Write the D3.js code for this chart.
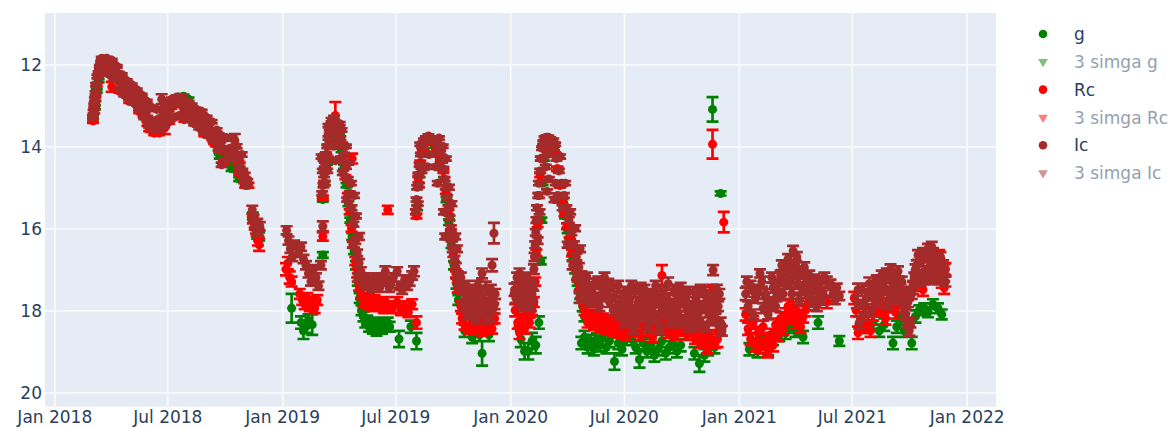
<!doctype html>
<html lang="en">
<head>
<meta charset="utf-8">
<title>light curve g / Rc / Ic</title>
<script src="https://cdn.jsdelivr.net/npm/d3@7"></script>
<style>
  body { margin: 0; background: #fff; }
  svg text { font-family: "DejaVu Sans", Verdana, sans-serif; }
</style>
</head>
<body>
<svg id="chart" width="1175" height="428"></svg>
<script>
// observations: [MJD - 58000, magnitude, error]
const gObs = [
  [181,13.35,.05],[184,13.05,.05],[187,12.65,.04],[190,12.4,.04],[194,12.1,.04],[198,11.98,.03],[204,12.0,.03],[210,12.1,.03],[216,12.2,.03],[222,12.35,.03],[230,12.5,.03],[238,12.6,.03],[246,12.8,.04],[254,13.0,.04],[262,13.2,.04],[270,13.4,.04],[278,13.5,.04],[286,13.45,.04],[294,13.3,.04],[302,13.1,.04],[310,12.95,.04],[318,12.85,.04],[326,12.85,.04],[334,13.0,.04],[342,13.15,.04],[350,13.3,.04],[358,13.45,.04],[366,13.65,.04],[374,13.85,.05],[382,14.05,.05],[390,14.25,.05],[398,14.35,.05],[406,14.45,.05],[414,14.55,.05],[420,14.7,.05],[426,14.9,.05],
  [318,12.8,.04],[326,12.78,.04],[334,12.85,.04],[384,14.25,.05],[394,14.35,.05],[403,14.55,.05],[410,14.5,.05],[415,14.8,.05],[418,14.75,.05],[425,14.95,.05],
  [437,15.7,.08],[441,15.9,.08],[444,16.15,.1],[447,16.2,.1],
  [499,17.95,.35],[514,18.3,.15],[518,18.5,.2],[522,18.4,.15],[526,18.25,.15],[532,18.35,.25],[549,16.65,.07],
  [549,15.3,.05],[552,14.9,.05],[556,14.4,.05],[561,13.9,.04],[566,13.6,.04],[571,13.55,.04],[575,13.75,.04],[579,14.1,.04],[583,14.5,.05],[587,14.95,.05],[590,15.4,.06],[593,15.8,.06],[596,16.2,.08],[599,16.55,.08],[602,16.9,.1],[605,17.3,.1],[608,17.7,.12],[611,18.0,.12],
  [614,18.15,.12],[617,18.3,.12],[620,18.25,.12],[623,18.4,.12],[626,18.3,.12],[629,18.45,.12],[632,18.35,.12],[635,18.5,.12],[638,18.4,.12],[641,18.3,.12],[644,18.45,.12],[647,18.35,.12],[650,18.4,.12],[653,18.3,.12],[656,18.4,.12],
  [671,18.7,.2],[690,18.4,.15],[699,18.75,.2],
  [700,15.5,.06],[704,14.7,.05],[710,14.1,.04],[716,13.85,.04],[722,13.85,.04],[728,14.0,.04],[733,14.15,.04],[738,14.35,.05],[743,14.8,.05],[747,15.3,.06],[751,15.85,.07],[755,16.4,.08],[759,16.9,.1],[763,17.35,.12],[766,17.75,.12],
  [776,18.5,.15],[788,18.65,.15],[800,18.6,.15],[804,19.05,.3],[815,18.6,.15],
  [866,18.7,.2],[872,19.0,.2],[878,19.0,.2],[884,18.75,.2],[890,18.85,.2],[895,18.3,.15],[898,16.8,.08],
  [899,15.8,.06],[901,14.9,.05],[903,14.3,.05],[906,14.0,.04],[910,13.9,.04],[914,13.95,.04],[918,14.05,.04],[921,14.2,.05],[925,14.55,.05],[929,14.95,.05],[933,15.35,.06],[937,15.7,.06],[941,16.05,.07],[945,16.35,.08],[949,16.7,.08],[953,17.0,.1],[957,17.3,.1],[961,17.6,.12],[965,17.9,.12],[968,18.15,.12],
  [963,18.8,.15],[968,18.65,.15],[973,18.9,.15],[978,18.75,.15],[983,18.95,.15],[988,18.7,.15],[993,18.85,.15],[998,18.6,.15],[1003,18.9,.15],[1008,18.75,.15],[1016,19.25,.2],[1022,18.8,.15],[1028,18.95,.15],[1034,18.7,.15],
  [1044,18.7,.15],[1050,18.9,.15],[1056,19.2,.2],[1062,18.8,.15],[1068,19.0,.15],[1074,18.85,.15],[1080,19.1,.15],[1086,18.95,.15],[1092,18.75,.15],[1098,19.05,.15],[1104,18.9,.15],[1110,18.8,.15],[1116,19.0,.15],[1122,18.85,.15],[1144,19.05,.15],[1152,19.3,.2],[1160,19.1,.15],[1166,18.95,.15],[1176,18.9,.15],
  [1173,13.1,.3],[1186,15.15,.05],
  [1232,18.95,.15],[1245,19.0,.15],[1250,18.8,.15],[1262,18.95,.15],[1270,18.7,.15],[1280,18.6,.15],[1290,18.55,.15],[1298,18.4,.15],[1306,18.5,.15],[1312,18.45,.15],[1318,18.65,.15],[1342,18.3,.15],[1376,18.75,.12],
  [1418,18.4,.15],[1430,18.3,.15],[1440,18.5,.15],[1448,18.35,.15],[1462,18.8,.15],[1468,18.4,.15],[1474,18.2,.15],[1480,18.5,.15],[1492,18.8,.15],[1498,18.15,.15],[1504,18.0,.12],[1512,17.95,.12],[1518,18.05,.12],[1526,17.85,.12],[1534,17.95,.12],[1540,18.1,.12]
];

const rcObs = [
  [181,13.38,.05],[183,13.15,.05],[185,12.85,.05],[187,12.5,.04],[189,12.3,.04],[192,12.1,.04],[196,12.0,.03],[200,11.95,.03],[205,12.0,.03],[210,12.05,.03],[211,12.55,.12],[215,12.15,.03],[220,12.3,.03],[226,12.45,.03],[232,12.55,.03],[238,12.65,.03],[244,12.75,.04],[250,12.9,.04],[256,13.05,.04],[262,13.25,.04],[268,13.45,.05],[274,13.6,.05],[280,13.65,.05],[286,13.5,.05],[292,13.4,.05],[296,13.55,.15],[300,13.2,.04],[306,13.05,.04],[312,12.95,.04],[318,12.9,.04],[324,13.0,.04],[330,13.1,.04],[336,13.2,.04],[342,13.3,.04],[348,13.4,.04],[354,13.5,.04],[360,13.6,.04],[366,13.7,.05],[372,13.8,.05],[378,13.95,.05],[384,14.05,.05],[390,14.1,.05],[396,14.15,.05],[402,14.2,.05],[408,14.25,.05],[414,14.4,.05],[420,14.65,.05],[426,14.85,.06],[430,14.95,.06],
  [223,12.65,.04],[239,12.9,.04],[255,13.15,.04],[271,13.58,.05],[279,13.68,.05],[287,13.68,.05],[303,13.4,.05],[327,13.35,.05],[359,13.7,.05],[375,13.9,.05],[391,14.4,.05],[415,14.65,.05],[425,14.95,.06],
  [437,15.8,.08],[440,15.95,.08],[443,16.1,.1],[445,16.3,.12],[447,16.4,.15],
  [490,17.0,.15],[493,16.85,.15],[496,17.2,.15],[499,17.3,.12],[512,17.6,.12],[516,17.75,.12],[520,17.85,.12],[524,17.7,.12],[528,17.9,.12],[532,17.8,.12],[536,17.95,.12],[540,17.75,.12],[549,16.2,.1],
  [549,15.25,.05],[551,14.9,.05],[553,14.55,.05],[555,14.25,.05],[558,14.0,.04],[562,13.7,.04],[566,13.55,.04],[569,13.25,.33],[573,13.6,.04],[577,13.9,.04],[581,14.3,.05],[585,14.75,.05],[589,15.2,.06],[592,15.6,.06],[595,16.0,.08],[596,14.3,.12],[598,16.4,.08],[601,16.8,.1],[604,17.1,.1],[607,17.4,.12],[610,17.6,.12],
  [614,17.8,.12],[617,17.75,.12],[620,17.85,.12],[623,17.7,.12],[626,17.8,.12],[629,17.9,.12],[632,17.75,.12],[635,17.85,.12],[638,17.8,.12],[641,17.9,.12],[644,17.85,.12],[647,17.95,.12],[650,17.8,.12],[653,15.55,.1],[656,17.9,.12],[660,17.95,.12],
  [668,17.8,.12],[674,18.0,.12],[680,17.9,.12],[686,18.05,.12],[692,17.85,.12],[699,18.3,.15],
  [699,15.7,.06],[702,14.8,.08],[705,14.4,.05],[709,14.05,.04],[714,13.85,.04],[720,13.8,.04],[726,13.9,.04],[732,14.05,.04],[738,14.3,.05],[742,14.6,.05],[746,15.1,.06],[750,15.6,.06],[754,16.1,.08],[758,16.6,.1],[762,17.1,.1],[765,17.45,.12],
  [770,17.9,.12],[772,18.2,.12],[776,18.35,.12],[780,18.1,.12],[784,18.45,.12],[788,18.25,.12],[792,18.4,.12],[796,18.15,.12],[800,18.3,.12],[804,18.5,.12],[808,18.2,.12],[812,18.4,.12],[816,18.3,.12],[820,18.45,.12],[824,18.2,.12],
  [857,18.0,.15],[861,18.3,.15],[864,18.55,.15],[868,18.2,.12],[872,18.45,.12],[876,18.1,.12],[880,18.3,.12],[884,18.0,.12],[887,17.8,.12],
  [889,17.3,.1],[891,16.6,.08],[893,15.9,.07],[895,15.2,.06],[897,14.7,.05],[899,14.3,.05],[902,14.0,.04],[906,13.85,.04],[910,13.82,.04],[914,13.9,.04],[917,14.0,.04],[920,14.2,.05],[924,14.55,.05],[928,14.95,.05],[932,15.3,.06],[936,15.65,.06],[940,15.95,.07],[944,16.3,.08],[948,16.6,.08],[952,16.9,.1],[956,17.15,.1],[960,17.4,.12],[964,17.6,.12],
  [968,18.0,.12],[973,18.3,.12],[978,18.1,.12],[983,18.35,.12],[988,18.15,.12],[993,18.4,.12],[998,18.2,.12],[1003,18.45,.12],[1008,18.25,.12],[1013,18.5,.12],[1018,18.3,.12],[1023,18.55,.12],[1028,18.35,.12],[1033,18.6,.12],[1038,18.4,.12],
  [1041,18.3,.12],[1045,18.1,.2],[1049,18.5,.12],[1053,18.25,.12],[1057,18.6,.12],[1061,18.35,.12],[1065,18.15,.12],[1069,18.5,.12],[1073,18.3,.12],[1077,18.65,.12],[1081,18.4,.12],[1085,18.2,.12],[1092,17.15,.25],[1093,18.45,.12],[1097,18.3,.12],[1101,18.55,.12],[1105,18.2,.12],[1109,18.4,.12],[1113,18.6,.12],[1117,18.3,.12],[1121,18.5,.12],[1125,18.25,.12],[1129,18.45,.12],[1133,18.6,.12],[1137,18.35,.12],[1141,18.5,.12],[1145,18.7,.12],[1149,18.4,.12],[1153,18.8,.12],[1157,18.55,.12],[1161,18.75,.12],[1165,18.9,.15],[1169,18.6,.12],[1173,17.5,.12],[1177,18.8,.12],[1181,18.7,.2],[1185,18.45,.12],
  [1173,13.95,.35],[1191,15.85,.25],
  [1226,18.1,.15],[1230,18.45,.15],[1234,18.7,.15],[1238,18.3,.15],[1242,18.85,.15],[1246,18.55,.15],[1250,18.9,.15],[1254,18.4,.15],[1258,18.75,.15],[1262,19.0,.15],[1266,18.6,.15],[1270,18.85,.15],[1274,18.35,.15],[1278,18.6,.15],[1282,18.2,.15],[1286,18.45,.15],[1290,18.1,.15],[1294,17.9,.15],[1298,18.2,.15],[1302,17.95,.15],[1306,18.3,.15],[1310,18.05,.15],[1314,18.4,.15],[1318,18.15,.15],[1322,18.0,.15],[1326,17.85,.15],[1356,17.8,.15],
  [1400,17.7,.15],[1403,18.0,.15],[1406,18.55,.15],[1410,18.2,.15],[1414,18.4,.15],[1418,17.9,.15],[1422,18.3,.15],[1426,18.5,.15],[1430,18.1,.15],[1434,17.8,.15],[1438,18.0,.15],[1442,17.7,.15],[1446,17.95,.15],[1450,18.2,.15],[1454,17.85,.15],[1458,17.6,.15],[1462,17.9,.15],[1466,18.05,.15],[1470,17.75,.15],[1474,17.5,.15],[1478,17.8,.15],[1486,17.6,.15],[1494,17.45,.15],[1502,17.3,.15],[1510,17.5,.15],[1518,17.2,.15],[1524,16.9,.15],[1528,16.75,.12],[1532,17.1,.15],[1536,16.65,.12],[1540,17.3,.15],[1544,17.45,.15],[1546,17.0,.15]
];

const icObs = [
  // 2018 season
  [181,13.28,.04],[182,13.15,.04],[183,13.0,.04],[184,12.85,.04],[185,12.7,.04],[186,12.5,.04],[188,12.3,.04],[190,12.2,.03],[192,12.05,.03],[194,11.95,.03],[197,11.9,.03],[200,11.88,.03],[203,11.9,.03],[206,11.92,.03],[209,11.95,.03],[212,12.0,.03],[215,12.1,.03],[218,12.2,.03],[221,12.3,.03],[224,12.35,.03],[228,12.45,.03],[232,12.5,.03],[236,12.55,.03],[240,12.6,.03],[244,12.7,.03],[248,12.8,.03],[252,12.9,.04],[256,13.0,.04],[260,13.1,.04],[264,13.2,.04],[268,13.3,.04],[272,13.35,.04],[276,13.45,.04],[280,13.4,.04],[284,13.35,.04],[288,13.4,.04],[291,12.85,.12],[292,13.3,.04],[296,13.25,.04],[300,13.1,.04],[304,13.0,.04],[308,12.95,.04],[312,12.9,.04],[316,12.92,.04],[320,12.95,.04],[324,13.0,.04],[328,13.05,.04],[332,13.1,.04],[336,13.15,.04],[340,13.2,.04],[344,13.25,.04],[348,13.3,.04],[352,13.3,.04],[356,13.4,.04],[360,13.5,.04],[364,13.55,.04],[368,13.65,.04],[372,13.75,.04],[376,13.8,.04],[380,13.9,.04],[384,13.95,.04],[387,14.45,.05],[388,14.05,.04],[392,14.1,.04],[396,14.1,.04],[400,14.05,.05],[404,14.15,.05],[408,13.85,.15],[410,14.2,.05],[412,14.35,.05],[416,14.45,.05],[420,14.6,.05],[424,14.7,.05],[428,14.85,.05],
  [195,11.85,.03],[203,11.85,.03],[211,11.9,.03],[219,12.05,.03],[227,12.25,.03],[235,12.4,.03],[243,12.5,.03],[251,12.62,.03],[259,12.75,.03],[267,12.9,.03],[275,13.05,.04],[283,13.1,.04],[291,13.1,.04],[299,12.95,.04],[307,12.85,.04],[315,12.8,.04],[323,12.8,.04],[331,12.9,.04],[339,13.0,.04],[347,13.1,.04],[355,13.15,.04],[363,13.3,.04],[371,13.4,.04],[379,13.6,.04],[387,13.75,.04],[395,13.8,.05],[403,13.8,.05],[411,14.0,.05],[419,14.2,.05],
  [199,12.2,.03],[207,12.25,.03],[215,12.35,.03],[223,12.6,.03],[231,12.75,.03],[239,12.85,.03],[247,12.95,.03],[255,13.1,.04],[263,13.3,.04],[271,13.5,.04],[279,13.6,.04],[287,13.6,.04],[295,13.5,.04],[303,13.35,.04],[311,13.3,.04],[319,13.25,.04],[327,13.3,.04],[335,13.35,.04],[343,13.45,.04],[351,13.55,.04],[359,13.65,.04],[367,13.75,.04],[375,13.85,.04],[383,14.1,.05],[391,14.35,.05],[399,14.25,.05],[407,14.3,.05],[415,14.6,.05],[423,14.85,.05],[427,14.95,.05],
  [436,15.55,.1],[438,15.75,.08],[440,15.9,.08],[442,16.05,.08],[444,15.85,.08],[446,16.1,.1],[448,15.95,.1],
  // 2019 season
  [491,16.05,.1],[494,16.3,.1],[497,16.5,.1],[500,16.7,.1],[503,16.4,.1],[510,16.6,.1],[514,16.45,.1],[518,16.75,.1],[522,16.9,.1],[526,17.1,.1],[530,17.3,.1],[534,17.0,.1],[538,17.2,.1],[542,17.4,.1],[546,16.9,.1],[549,15.95,.12],
  [548,15.15,.05],[549,14.6,.05],[550,14.95,.05],[550,14.3,.05],[551,14.7,.05],[552,14.45,.05],[552,14.9,.05],[554,14.2,.05],[556,14.0,.04],[558,13.8,.04],[560,13.65,.04],[562,13.55,.04],[565,13.5,.04],[568,13.45,.04],[571,13.5,.04],[574,13.6,.04],[577,13.8,.04],[580,13.95,.04],[583,14.2,.04],[586,14.5,.05],[589,14.8,.05],[592,15.15,.05],[595,15.5,.06],[598,15.9,.06],[601,16.3,.08],[604,16.6,.08],[607,16.85,.1],[610,17.05,.1],
  [547,14.25,.05],[556,14.6,.05],[557,14.3,.05],[558,13.5,.04],[563,13.35,.04],[566,14.0,.04],[567,13.3,.04],[569,14.35,.05],[576,13.45,.04],[578,14.3,.05],[579,13.6,.04],[581,14.65,.05],[586,14.0,.04],[588,15.3,.05],[590,14.4,.05],[594,14.9,.05],[597,16.4,.07],[599,15.2,.06],[602,15.7,.06],[605,17.2,.1],[607,16.2,.08],
  [613,17.25,.1],[616,17.35,.1],[619,17.2,.1],[622,17.4,.1],[625,17.3,.1],[628,17.45,.1],[631,17.2,.1],[634,17.35,.1],[637,17.25,.1],[640,17.45,.1],[643,17.3,.1],[646,17.2,.1],[649,17.05,.12],[652,17.3,.1],[655,17.45,.1],[658,17.35,.1],[662,17.2,.1],
  [668,17.05,.1],[672,17.4,.1],[676,17.5,.1],[680,17.25,.1],[684,17.4,.1],[688,17.3,.1],[692,17.15,.1],[695,17.05,.12],
  [698,15.6,.06],[699,15.3,.05],[700,15.0,.05],[701,15.4,.05],[702,14.7,.05],[703,14.95,.05],[704,14.45,.05],[706,14.2,.04],[708,14.0,.04],[711,13.85,.04],[714,13.8,.04],[718,13.75,.04],[722,13.8,.04],[726,13.85,.04],[730,13.9,.04],[734,14.0,.04],[737,14.15,.04],[740,14.35,.05],[742,14.55,.05],[744,14.8,.05],[746,15.0,.05],[748,15.25,.06],[750,15.5,.06],[752,15.75,.06],[754,16.0,.07],[756,16.25,.07],[758,16.5,.08],[760,16.75,.08],[762,16.95,.1],[765,17.15,.1],
  [705,13.95,.04],[707,14.6,.05],[716,14.5,.05],[719,14.2,.05],[730,14.5,.05],[733,14.9,.05],[735,13.8,.04],[741,14.0,.04],[743,15.6,.06],[745,16.2,.07],[746,14.3,.05],[751,15.0,.06],[755,15.4,.06],[757,16.5,.08],[761,16.2,.07],[764,16.5,.08],[767,17.3,.1],
  [768,17.4,.12],[771,17.5,.12],[774,17.9,.12],[777,17.6,.12],[780,18.1,.12],[783,17.8,.12],[786,17.5,.12],[789,18.0,.12],[792,17.7,.12],[795,18.2,.12],[798,17.9,.12],[801,17.6,.12],[804,17.1,.12],[805,18.05,.12],[807,17.75,.12],[810,17.45,.15],[813,17.9,.12],[816,18.15,.12],[819,17.7,.12],[820,16.9,.15],[822,17.95,.12],[823,16.12,.25],[825,17.6,.12],
  [770,17.2,.12],[779,17.4,.12],[788,17.65,.12],[797,17.4,.12],[812,18.2,.12],[818,17.5,.12],[824,17.85,.12],
  // 2020 season
  [856,17.5,.15],[860,17.2,.12],[863,17.8,.12],[866,17.4,.12],[869,17.9,.12],[872,17.3,.12],[875,17.6,.12],[878,17.85,.12],[881,17.35,.12],[884,17.6,.12],[887,17.0,.12],
  [858,17.7,.12],[864,17.1,.12],[870,17.6,.12],[876,17.2,.12],[882,17.9,.12],[886,17.4,.12],
  [888,16.7,.1],[889,16.4,.08],[890,16.1,.08],[891,15.8,.07],[892,15.5,.06],[893,16.3,.08],[894,15.2,.06],[895,14.9,.05],[896,15.6,.06],[897,14.6,.05],[898,14.3,.05],[900,14.05,.04],[902,13.9,.04],[904,13.8,.04],[907,13.78,.04],[910,13.78,.04],[913,13.82,.04],[915,13.9,.04],
  [919,14.05,.04],[923,14.3,.05],[927,14.6,.05],[931,14.9,.05],[935,15.2,.06],[939,15.5,.06],[943,15.8,.07],[947,16.1,.07],[951,16.4,.08],[955,16.7,.08],[959,16.95,.1],[963,17.15,.1],
  [906,14.5,.05],[908,15.1,.05],[909,14.2,.04],[911,14.8,.05],[918,13.85,.04],[920,15.3,.06],[921,13.95,.04],[922,14.9,.05],[925,15.2,.05],[929,14.25,.05],[933,15.5,.06],[937,14.9,.05],[941,16.4,.07],[945,15.6,.06],[949,16.9,.1],[953,16.0,.07],[957,17.2,.1],[961,16.5,.08],
  [960,17.7,.12],[964,17.4,.12],[968,17.6,.12],[972,17.2,.12],[976,17.8,.12],[980,17.5,.12],[984,17.35,.12],[988,17.7,.12],[992,17.9,.12],[996,17.45,.12],[1000,17.2,.12],[1004,17.6,.12],[1008,17.8,.12],[1012,17.4,.12],[1016,17.65,.12],[1020,17.9,.12],[1024,18.1,.12],[1028,17.7,.12],[1032,18.3,.12],[1036,17.55,.12],
  [966,17.3,.12],[974,17.55,.12],[982,17.8,.12],[990,17.3,.12],[998,17.6,.12],[1006,17.35,.12],[1014,18.0,.12],[1022,17.4,.12],[1030,17.9,.12],[1034,18.2,.12],[1038,17.6,.12],
  [1040,17.8,.12],[1044,18.1,.12],[1046,18.0,.12],[1049,17.55,.15],[1050,18.3,.12],[1052,18.15,.12],[1054,17.8,.12],[1058,17.45,.12],[1060,17.6,.12],[1062,18.1,.12],[1066,17.7,.12],[1068,17.9,.12],[1070,18.4,.12],[1074,17.6,.12],[1076,18.2,.12],[1078,17.9,.12],[1082,17.4,.12],[1084,17.65,.12],[1086,18.2,.12],[1090,17.75,.12],[1092,17.95,.12],[1094,17.5,.12],[1098,18.0,.12],[1100,17.7,.12],[1102,17.35,.15],[1106,17.85,.12],[1108,18.1,.12],[1110,18.3,.12],[1114,17.6,.12],[1116,17.9,.12],[1118,18.05,.12],[1122,17.45,.12],[1124,17.7,.12],[1126,17.8,.12],[1130,18.25,.12],[1132,18.0,.12],[1134,17.55,.12],[1138,17.9,.12],[1140,18.2,.12],[1142,18.35,.12],[1146,17.7,.12],[1148,17.8,.12],[1150,18.1,.12],[1154,17.5,.12],[1156,17.9,.12],[1158,17.95,.12],[1162,18.4,.12],[1164,17.7,.12],[1166,17.65,.12],[1170,18.25,.12],[1172,18.0,.12],[1174,17.02,.12],[1176,17.75,.12],[1178,18.2,.12],[1180,17.5,.12],[1182,17.9,.12],[1186,18.3,.12],
  [1043,17.4,.12],[1047,18.45,.12],[1056,18.0,.12],[1064,17.5,.12],[1072,18.05,.12],[1080,17.8,.12],[1088,18.45,.12],[1096,17.75,.12],[1104,18.3,.12],[1112,17.5,.12],[1120,18.3,.12],[1128,17.6,.12],[1136,18.4,.12],[1144,17.55,.12],[1152,18.3,.12],[1160,17.55,.12],[1168,18.05,.12],[1184,17.6,.12],[1188,18.5,.12],
  // 2021 season
  [1226,17.6,.15],[1230,17.9,.12],[1234,17.4,.12],[1238,18.1,.12],[1242,17.7,.12],[1246,17.5,.12],[1249,17.1,.1],[1254,17.95,.12],[1258,17.6,.12],[1262,18.1,.12],[1266,17.8,.12],[1270,17.45,.12],[1274,17.9,.12],[1278,17.35,.12],[1282,17.15,.12],[1286,17.6,.12],[1290,17.0,.12],[1294,16.75,.12],[1298,17.3,.12],[1302,16.55,.12],[1306,16.9,.12],[1310,17.35,.12],[1314,17.1,.12],[1318,17.5,.12],[1322,17.2,.12],[1326,17.65,.12],[1330,17.35,.12],[1334,17.8,.12],[1338,17.45,.12],[1342,17.7,.12],[1346,17.3,.12],[1350,17.55,.12],[1356,17.3,.12],[1366,17.6,.1],[1372,17.45,.1],[1376,17.65,.1],
  [1228,17.3,.12],[1240,17.55,.12],[1252,17.3,.12],[1260,17.8,.12],[1268,17.2,.12],[1276,17.65,.12],[1284,16.9,.12],[1288,17.35,.12],[1292,17.2,.12],[1296,16.95,.12],[1300,17.6,.12],[1304,17.05,.12],[1308,16.7,.12],[1312,17.75,.12],[1316,17.45,.12],[1320,16.95,.12],[1324,17.5,.12],[1328,17.15,.12],[1332,17.55,.12],[1336,17.25,.12],[1340,17.9,.12],[1344,17.45,.12],[1348,17.75,.12],[1352,17.2,.12],[1362,17.35,.1],[1369,17.75,.1],
  [1404,17.8,.15],[1408,18.3,.15],[1412,17.5,.15],[1416,18.1,.15],[1420,17.7,.15],[1424,17.35,.15],[1428,18.0,.15],[1432,17.6,.15],[1436,17.3,.15],[1440,17.5,.12],[1444,17.15,.12],[1448,17.45,.12],[1452,17.1,.12],[1456,17.6,.12],[1460,17.3,.12],[1464,17.15,.12],[1468,17.5,.12],[1472,17.75,.12],[1476,17.3,.12],[1480,17.95,.12],[1484,18.3,.12],[1488,18.5,.12],[1492,17.6,.12],[1496,17.2,.12],[1500,16.9,.12],[1504,17.15,.12],[1508,16.8,.12],[1512,17.05,.12],[1516,16.7,.12],[1520,16.95,.12],[1524,16.45,.12],[1528,16.75,.12],[1532,17.1,.12],[1536,16.85,.12],[1540,17.2,.12],[1544,17.0,.12],
  [1406,17.5,.15],[1414,17.9,.15],[1422,17.55,.15],[1430,17.35,.15],[1438,17.8,.12],[1446,17.3,.12],[1454,17.85,.12],[1458,17.0,.12],[1462,17.7,.12],[1466,17.35,.12],[1470,17.05,.12],[1478,17.55,.12],[1482,18.1,.12],[1486,17.8,.12],[1490,18.3,.12],[1494,17.4,.12],[1498,17.0,.12],[1502,16.65,.12],[1506,17.3,.12],[1510,16.6,.12],[1514,17.25,.12],[1518,16.5,.12],[1522,17.2,.12],[1526,16.6,.12],[1530,16.9,.12],[1534,17.25,.12],[1538,16.7,.12],[1542,16.9,.12],[1546,17.3,.12]
];

const xTickDates = ["2018-01-01","2018-07-01","2019-01-01","2019-07-01","2020-01-01","2020-07-01","2021-01-01","2021-07-01","2022-01-01"];
const yTickValues = [12, 14, 16, 18, 20];
const legendNames = ["g", "3 simga g", "Rc", "3 simga Rc", "Ic", "3 simga Ic"];
const legendColors = ["green", "green", "red", "red", "brown", "brown"];
const legendOnly = [false, true, false, true, false, true];

// layout
const plot = { left: 45, right: 996, top: 13, bottom: 406.7 };
const mjdEpoch = Date.UTC(1858, 10, 17);
const toDate = t => new Date(mjdEpoch + (t + 58000) * 864e5);

const svg = d3.select("#chart");

const x = d3.scaleUtc()
  .domain([new Date("2018-01-01"), new Date("2022-01-01")])
  .range([54.3, 966.7]);
const y = d3.scaleLinear()
  .domain([12, 20])
  .range([64.3, 392.3]);

svg.append("rect")
  .attr("x", plot.left).attr("y", plot.top)
  .attr("width", plot.right - plot.left).attr("height", plot.bottom - plot.top)
  .attr("fill", "#e5ecf6");

svg.append("clipPath").attr("id", "clip")
  .append("rect")
  .attr("x", plot.left).attr("y", plot.top)
  .attr("width", plot.right - plot.left).attr("height", plot.bottom - plot.top);

// axes, with full-length ticks acting as the grid
const xAxis = svg.append("g")
  .attr("transform", `translate(0,${plot.bottom})`)
  .call(d3.axisBottom(x)
    .tickValues(xTickDates.map(d => new Date(d)))
    .tickFormat(d3.utcFormat("%b %Y"))
    .tickSize(-(plot.bottom - plot.top))
    .tickPadding(4.5));

const yAxis = svg.append("g")
  .attr("transform", `translate(${plot.left},0)`)
  .call(d3.axisLeft(y)
    .tickValues(yTickValues)
    .tickSize(-(plot.right - plot.left))
    .tickPadding(3));

[xAxis, yAxis].forEach(ax => {
  ax.select(".domain").remove();
  ax.selectAll("line").attr("stroke", "#fff").attr("stroke-width", 1.3);
  ax.selectAll("text")
    .attr("fill", "#2a3f5f")
    .style("font-size", "17px");
});
yAxis.selectAll("text").attr("dy", "0.36em");

// each trace: error bars, then markers
const marks = svg.append("g").attr("clip-path", "url(#clip)");
const capHalf = 6;

function drawSeries(data, color) {
  const p = d3.path();
  data.forEach(([t, m, e]) => {
    const cx = x(toDate(t)), y1 = y(m - e), y2 = y(m + e);
    p.moveTo(cx - capHalf, y1); p.lineTo(cx + capHalf, y1);
    p.moveTo(cx, y1); p.lineTo(cx, y2);
    p.moveTo(cx - capHalf, y2); p.lineTo(cx + capHalf, y2);
  });
  marks.append("path")
    .attr("d", p.toString())
    .attr("fill", "none")
    .attr("stroke", color)
    .attr("stroke-width", 2.7);
  marks.append("g")
    .selectAll("circle")
    .data(data)
    .join("circle")
    .attr("cx", d => x(toDate(d[0])))
    .attr("cy", d => y(d[1]))
    .attr("r", 4.5)
    .attr("fill", color);
}

drawSeries(gObs, "green");
drawSeries(rcObs, "red");
drawSeries(icObs, "brown");

// legend
const legend = svg.append("g");
legendNames.forEach((name, i) => {
  const row = legend.append("g")
    .attr("transform", `translate(1043,${34 + i * 27.8})`)
    .attr("opacity", legendOnly[i] ? 0.5 : 1);
  if (legendOnly[i]) {
    row.append("path")
      .attr("d", d3.symbol(d3.symbolTriangle, 40)())
      .attr("transform", "rotate(180)")
      .attr("fill", legendColors[i]);
  } else {
    row.append("circle").attr("r", 4.3).attr("fill", legendColors[i]);
  }
  row.append("text")
    .attr("x", 31)
    .attr("dy", "0.36em")
    .attr("fill", "#2a3f5f")
    .style("font-size", "17px")
    .text(name);
});
</script>
</body>
</html>
